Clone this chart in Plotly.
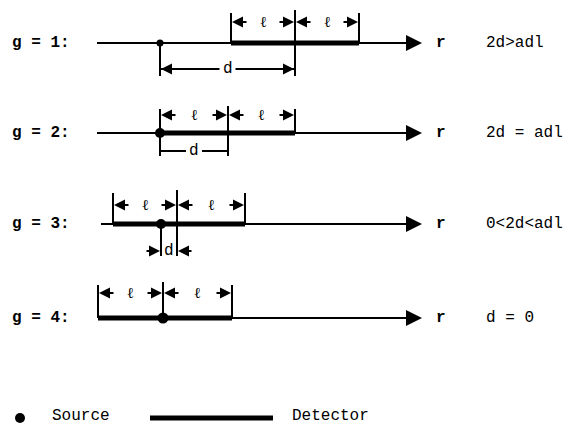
import plotly.graph_objects as go

# ---- diagram values (screen-like units, y grows downward) ----
row_y = [43, 133, 224, 318]
row_labels = ["g = 1:", "g = 2:", "g = 3:", "g = 4:"]
conditions = ["2d>adl", "2d = adl", "0<2d<adl", "d = 0"]
axis_start = [97, 97, 101, 98]
axis_end = 422
source_x = [160, 160, 161, 163]
det_start = [231, 160, 113, 98]
det_mid = [295, 228, 177, 163]
det_end = [359, 295, 245, 232]
tick_top = [13, 109, 193, 285]
ell_y = [22, 115, 205, 293]
d_y = [69, 151, 251, None]
d_bottom = [76, 156, 256, None]
d_style = ["inner", "plain", "outer", None]
source_size = [7, 10, 10, 11]
legend_y = 418
legend_text_y = 416
legend_dot_x = 20
legend_line = [150, 273]
legend_text = ["Source", "Detector"]
legend_text_x = [50, 290]

FONT = dict(family="Liberation Mono, Courier New, monospace", size=16, color="black")

fig = go.Figure()
annotations = []

def seg(xs, ys, w):
    fig.add_trace(go.Scatter(x=xs, y=ys, mode="lines", line=dict(color="black", width=w),
                             hoverinfo="skip", showlegend=False))

def arrow(x_head, x_tail, y, size=1.0, width=2, head=2):
    annotations.append(dict(x=x_head, y=y, ax=x_tail, ay=y, xref="x", yref="y",
                            axref="x", ayref="y", showarrow=True, arrowhead=head,
                            arrowsize=size, arrowwidth=width, arrowcolor="black",
                            standoff=0, startstandoff=0, text=""))

def label(x, y, t, anchor="left", size=16, family=None):
    f = dict(FONT)
    f["size"] = size
    if family:
        f["family"] = family
    annotations.append(dict(x=x, y=y, xref="x", yref="y", text=t, showarrow=False,
                            xanchor=anchor, yanchor="middle", font=f))

for i, y in enumerate(row_y):
    # axis line r
    seg([axis_start[i], axis_end - 6], [y, y], 2)
    arrow(axis_end, axis_end - 10, y, size=1.6, width=2, head=2)
    # detector (thick)
    seg([det_start[i], det_end[i]], [y, y], 5)
    # vertical ticks
    top = tick_top[i]
    seg([det_start[i], det_start[i]], [top, y], 2)
    seg([det_end[i], det_end[i]], [top, y], 2)
    mid_bottom = d_bottom[i] if d_bottom[i] is not None else y
    seg([det_mid[i], det_mid[i]], [top - 3, mid_bottom], 2)
    if d_bottom[i] is not None:
        seg([source_x[i], source_x[i]], [y, d_bottom[i]], 2)
    # l dimension arrows
    for a, b in [(det_start[i], det_mid[i]), (det_mid[i], det_end[i])]:
        ey = ell_y[i]
        c = (a + b) / 2
        arrow(a + 1, a + 17, ey, size=1.1)
        arrow(b - 1, b - 17, ey, size=1.1)
        label(c, ey, "ℓ", anchor="center", size=15, family="DejaVu Serif")
    # d dimension
    if d_style[i] == "inner":
        a, b = source_x[i], det_mid[i]
        c = (a + b) / 2
        seg([a, c - 8], [d_y[i], d_y[i]], 2)
        seg([c + 8, b], [d_y[i], d_y[i]], 2)
        arrow(a + 1, a + 12, d_y[i], size=1.1)
        arrow(b - 1, b - 12, d_y[i], size=1.1)
        label(c, d_y[i], "d", anchor="center")
    elif d_style[i] == "plain":
        a, b = source_x[i], det_mid[i]
        c = (a + b) / 2
        seg([a, c - 8], [d_y[i], d_y[i]], 2)
        seg([c + 8, b], [d_y[i], d_y[i]], 2)
        label(c, d_y[i], "d", anchor="center")
    elif d_style[i] == "outer":
        a, b = source_x[i], det_mid[i]
        arrow(a - 1, a - 16, d_y[i], size=1.1)
        arrow(b + 1, b + 16, d_y[i], size=1.1)
        label((a + b) / 2, d_y[i], "d", anchor="center")
    # source
    fig.add_trace(go.Scatter(x=[source_x[i]], y=[y], mode="markers",
                             marker=dict(color="black", size=source_size[i]),
                             hoverinfo="skip", showlegend=False))
    # texts
    label(10, y, "<b>" + row_labels[i] + "</b>")
    label(434, y, "<b>r</b>")
    label(484, y, conditions[i])

# legend
fig.add_trace(go.Scatter(x=[legend_dot_x], y=[legend_y], mode="markers",
                         marker=dict(color="black", size=10), hoverinfo="skip", showlegend=False))
seg(legend_line, [legend_y, legend_y], 5)
label(legend_text_x[0], legend_text_y, legend_text[0])
label(legend_text_x[1], legend_text_y, legend_text[1])

fig.update_layout(
    width=572, height=427, margin=dict(l=0, r=0, t=0, b=0),
    paper_bgcolor="white", plot_bgcolor="white",
    xaxis=dict(range=[0, 572], visible=False, fixedrange=True),
    yaxis=dict(range=[427, 0], visible=False, fixedrange=True),
    annotations=annotations, showlegend=False,
)
fig.write_html("out.html", config={"displayModeBar": False},
               post_script="document.body.style.margin='0';document.body.style.overflow='hidden';")
